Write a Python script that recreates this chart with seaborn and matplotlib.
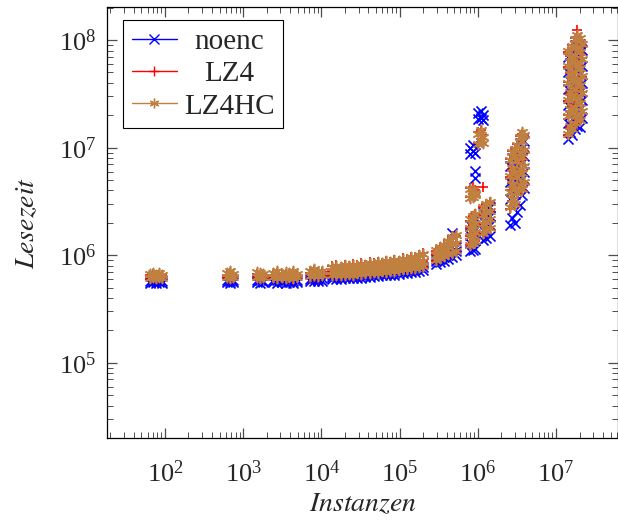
import matplotlib.pyplot as plt
from matplotlib.lines import Line2D
from matplotlib.ticker import LogLocator, NullFormatter
import numpy as np
import pandas as pd
import seaborn as sns

# Lesezeit je Anzahl Instanzen, mehrere Messungen pro Instanzanzahl
instanzen = [
    65, 71, 77, 84, 91,
    620, 680, 740,
    1500, 1640, 1780,
    2400, 2750, 3100, 3500, 3900, 4400, 4900,
    7200, 8000, 9000, 10200,
    13800, 15600, 17600, 19900, 22500, 25400, 28700, 32400, 36600, 41400, 46700, 52800,
    59600, 67400, 76100, 86000, 97000, 110000, 124000, 140000, 158000, 178000, 200000,
    2.9e5, 3.3e5, 3.7e5, 4.2e5, 4.7e5, 5.2e5,
    8.0e5, 8.7e5, 9.3e5, 1.02e6, 1.1e6, 1.18e6, 1.28e6, 1.42e6,
    2.55e6, 2.75e6, 2.95e6, 3.2e6, 3.45e6, 3.7e6, 3.95e6,
    1.42e7, 1.50e7, 1.62e7, 1.75e7, 1.88e7, 2.02e7, 2.15e7,
]

noenc = [
    [5.5e5, 5.8e5], [5.6e5, 5.9e5], [5.5e5, 5.8e5], [5.6e5, 5.9e5], [5.5e5, 5.8e5],
    [5.6e5, 5.9e5], [5.5e5, 5.8e5], [5.6e5, 5.9e5],
    [5.6e5, 5.9e5], [5.5e5, 5.9e5], [5.6e5, 5.8e5],
    [5.6e5, 5.9e5], [5.5e5, 5.9e5], [5.6e5, 5.8e5], [5.5e5, 5.9e5], [5.6e5, 5.9e5], [5.5e5, 5.8e5], [5.6e5, 5.9e5],
    [5.7e5, 6.0e5], [5.7e5, 6.1e5], [5.8e5, 6.0e5], [5.8e5, 6.1e5],
    [6.0e5, 6.3e5, 6.6e5], [6.0e5, 6.4e5, 6.8e5], [6.0e5, 6.3e5, 6.6e5], [6.1e5, 6.4e5, 6.8e5],
    [6.1e5, 6.5e5, 6.9e5], [6.1e5, 6.5e5, 7.0e5], [6.2e5, 6.6e5, 7.0e5], [6.2e5, 6.6e5, 7.1e5],
    [6.3e5, 6.7e5, 7.1e5], [6.3e5, 6.7e5, 7.2e5], [6.4e5, 6.8e5, 7.2e5], [6.4e5, 6.8e5, 7.3e5],
    [6.5e5, 6.9e5, 7.3e5], [6.5e5, 6.9e5, 7.4e5], [6.6e5, 7.0e5, 7.5e5], [6.6e5, 7.1e5, 7.6e5],
    [6.7e5, 7.1e5, 7.7e5], [6.8e5, 7.2e5, 7.8e5], [6.8e5, 7.3e5, 7.9e5], [7.0e5, 7.5e5, 8.1e5],
    [7.0e5, 7.5e5, 8.2e5], [7.2e5, 7.7e5, 8.4e5], [7.3e5, 7.8e5, 8.5e5],
    [8.3e5, 8.8e5, 9.3e5], [8.6e5, 9.2e5, 9.8e5], [8.9e5, 9.7e5, 1.05e6],
    [9.3e5, 1.0e6, 1.1e6], [9.6e5, 1.1e6, 1.6e6], [1.0e6, 1.1e6, 1.2e6],
    [1.1e6, 1.3e6, 1.55e6, 1.9e6, 8.8e6, 1.0e7], [1.12e6, 1.35e6, 1.65e6, 2.1e6, 9.3e6, 1.05e7],
    [1.15e6, 1.4e6, 1.75e6, 2.2e6, 5.2e6, 6.1e6, 9.0e6],
    [1.85e7, 2.1e7], [1.9e7, 2.2e7], [1.4e6, 1.7e6, 2.1e6, 2.5e6, 1.8e7, 2.0e7],
    [1.45e6, 1.8e6, 2.2e6, 2.7e6], [1.5e6, 1.9e6, 2.3e6, 2.8e6],
    [1.9e6, 3.3e6, 4.8e6, 6.8e6], [2.2e6, 4.0e6, 5.7e6, 8.1e6], [2.0e6, 3.7e6, 5.3e6, 7.4e6, 8.7e6],
    [2.5e6, 4.7e6, 6.6e6, 9.2e6], [2.9e6, 5.5e6, 7.8e6, 1.1e7], [3.6e6, 5.1e6, 7.2e6, 1.0e7, 1.2e7],
    [4.2e6, 6.0e6, 8.4e6, 1.15e7],
    [1.2e7, 1.7e7, 2.5e7, 3.5e7, 5.1e7, 7.0e7], [1.4e7, 2.0e7, 2.9e7, 4.2e7, 6.1e7],
    [1.3e7, 1.85e7, 2.6e7, 3.8e7, 5.5e7, 7.7e7], [1.5e7, 2.1e7, 3.1e7, 4.4e7, 6.3e7, 9.0e7],
    [1.6e7, 2.5e7, 3.7e7, 5.3e7, 7.6e7, 9.8e7], [1.55e7, 2.3e7, 3.3e7, 4.8e7, 6.9e7, 9.2e7],
    [1.9e7, 2.8e7, 4.0e7, 5.8e7, 8.1e7],
]

lz4 = [
    [6.0e5, 6.5e5], [6.1e5, 6.7e5], [6.0e5, 6.4e5], [6.1e5, 6.6e5], [6.0e5, 6.5e5],
    [6.1e5, 6.6e5], [6.0e5, 6.8e5], [6.1e5, 6.5e5],
    [6.1e5, 6.7e5], [6.0e5, 6.6e5], [6.1e5, 6.5e5],
    [6.1e5, 6.6e5], [6.0e5, 6.8e5], [6.1e5, 6.5e5], [6.0e5, 6.7e5], [6.1e5, 6.6e5], [6.0e5, 6.8e5], [6.1e5, 6.5e5],
    [6.2e5, 6.9e5], [6.3e5, 7.3e5], [6.2e5, 6.8e5], [6.4e5, 7.0e5],
    [6.4e5, 7.1e5, 7.9e5], [6.5e5, 7.1e5, 8.1e5], [6.4e5, 7.1e5, 7.8e5], [6.5e5, 7.1e5, 8.2e5],
    [6.6e5, 7.3e5, 8.0e5], [6.5e5, 7.2e5, 8.3e5], [6.7e5, 7.4e5, 8.1e5], [6.6e5, 7.3e5, 8.4e5],
    [6.8e5, 7.5e5, 8.2e5], [6.7e5, 7.4e5, 8.6e5], [6.9e5, 7.6e5, 8.4e5], [6.8e5, 7.5e5, 8.7e5],
    [7.0e5, 7.7e5, 8.5e5], [6.9e5, 7.6e5, 8.9e5], [7.1e5, 7.8e5, 8.7e5], [7.1e5, 7.8e5, 9.1e5],
    [7.2e5, 8.0e5, 8.9e5], [7.3e5, 8.0e5, 9.4e5], [7.3e5, 8.2e5, 9.2e5], [7.5e5, 8.3e5, 9.7e5],
    [7.5e5, 8.4e5, 9.6e5], [7.7e5, 8.6e5, 1.01e6], [7.8e5, 8.9e5, 1.04e6],
    [8.8e5, 1.0e6, 1.1e6], [9.3e5, 1.05e6, 1.2e6], [9.6e5, 1.1e6, 1.27e6],
    [1.0e6, 1.17e6, 1.38e6], [1.05e6, 1.25e6, 1.5e6], [1.08e6, 1.3e6, 1.52e6],
    [1.25e6, 1.5e6, 1.8e6, 2.1e6, 3.5e6, 4.2e6], [1.3e6, 1.55e6, 1.9e6, 2.3e6, 3.7e6, 4.3e6],
    [1.35e6, 1.6e6, 2.0e6, 2.4e6, 3.6e6, 3.9e6, 4.0e6],
    [1.1e7, 1.4e7], [1.2e7, 1.45e7], [1.6e6, 1.95e6, 2.35e6, 2.8e6, 4.3e6, 1.3e7],
    [1.65e6, 2.0e6, 2.5e6, 3.0e6], [1.75e6, 2.1e6, 2.6e6, 3.1e6],
    [2.7e6, 4.0e6, 5.3e6, 7.9e6], [3.2e6, 4.7e6, 6.3e6, 9.4e6], [2.9e6, 4.3e6, 5.8e6, 8.6e6, 1.0e7],
    [3.7e6, 5.4e6, 7.3e6, 1.07e7], [4.4e6, 6.4e6, 8.7e6, 1.27e7], [4.0e6, 5.9e6, 8.0e6, 1.17e7, 1.35e7],
    [4.7e6, 6.9e6, 9.4e6, 1.32e7],
    [1.3e7, 2.0e7, 2.7e7, 4.1e7, 5.6e7, 7.8e7], [1.55e7, 2.4e7, 3.2e7, 4.9e7, 7.1e7],
    [1.45e7, 2.2e7, 2.9e7, 4.4e7, 6.0e7, 9.0e7], [1.65e7, 2.5e7, 3.4e7, 5.2e7, 7.0e7, 1.05e8],
    [1.9e7, 3.0e7, 4.0e7, 6.2e7, 8.4e7, 1.25e8], [1.75e7, 2.7e7, 3.7e7, 5.7e7, 7.6e7, 1.0e8],
    [2.1e7, 3.3e7, 4.5e7, 6.8e7, 9.0e7],
]

lz4hc = [
    [6.2e5, 6.7e5], [6.3e5, 6.9e5], [6.1e5, 6.6e5], [6.3e5, 6.8e5], [6.2e5, 6.6e5],
    [6.3e5, 6.8e5], [6.2e5, 7.2e5], [6.3e5, 6.7e5],
    [6.3e5, 7.0e5], [6.2e5, 6.8e5], [6.3e5, 6.7e5],
    [6.3e5, 6.8e5], [6.2e5, 7.1e5], [6.3e5, 6.7e5], [6.2e5, 7.0e5], [6.3e5, 6.8e5], [6.2e5, 7.1e5], [6.3e5, 6.7e5],
    [6.4e5, 7.1e5], [6.5e5, 7.5e5], [6.4e5, 7.0e5], [6.6e5, 7.2e5],
    [6.5e5, 7.1e5, 7.8e5], [6.6e5, 7.3e5, 8.0e5], [6.5e5, 7.1e5, 7.7e5], [6.6e5, 7.3e5, 8.1e5],
    [6.7e5, 7.3e5, 7.9e5], [6.6e5, 7.4e5, 8.2e5], [6.8e5, 7.4e5, 8.0e5], [6.7e5, 7.5e5, 8.3e5],
    [6.9e5, 7.5e5, 8.1e5], [6.8e5, 7.6e5, 8.5e5], [7.0e5, 7.6e5, 8.3e5], [6.9e5, 7.7e5, 8.6e5],
    [7.1e5, 7.7e5, 8.4e5], [7.0e5, 7.8e5, 8.8e5], [7.2e5, 7.8e5, 8.6e5], [7.2e5, 8.0e5, 9.0e5],
    [7.3e5, 8.0e5, 8.8e5], [7.4e5, 8.2e5, 9.3e5], [7.4e5, 8.2e5, 9.1e5], [7.6e5, 8.5e5, 9.6e5],
    [7.6e5, 8.4e5, 9.5e5], [7.8e5, 8.8e5, 1.0e6], [7.9e5, 8.9e5, 1.02e6],
    [9.0e5, 1.0e6, 1.12e6], [9.4e5, 1.06e6, 1.18e6], [9.8e5, 1.1e6, 1.25e6],
    [1.02e6, 1.18e6, 1.35e6], [1.06e6, 1.26e6, 1.48e6], [1.1e6, 1.3e6, 1.55e6],
    [1.25e6, 1.5e6, 1.8e6, 2.15e6, 3.4e6, 4.1e6], [1.3e6, 1.55e6, 1.9e6, 2.3e6, 3.5e6, 4.0e6],
    [1.35e6, 1.65e6, 2.0e6, 2.4e6, 3.8e6, 3.6e6, 3.7e6],
    [1.08e7, 1.35e7], [1.15e7, 1.45e7], [1.6e6, 1.95e6, 2.35e6, 2.8e6, 1.25e7, 1.1e7],
    [1.7e6, 2.05e6, 2.5e6, 3.0e6], [1.8e6, 2.15e6, 2.6e6, 3.1e6],
    [2.8e6, 3.9e6, 5.5e6, 7.7e6], [3.3e6, 4.6e6, 6.5e6, 9.2e6], [3.0e6, 4.2e6, 6.0e6, 8.4e6, 9.8e6],
    [3.8e6, 5.3e6, 7.5e6, 1.05e7], [4.5e6, 6.3e6, 8.9e6, 1.25e7], [4.1e6, 5.8e6, 8.2e6, 1.15e7, 1.4e7],
    [4.8e6, 6.8e6, 9.6e6, 1.3e7],
    [1.35e7, 1.95e7, 2.8e7, 4.0e7, 5.8e7, 8.0e7], [1.6e7, 2.3e7, 3.3e7, 4.8e7, 6.9e7],
    [1.5e7, 2.1e7, 3.0e7, 4.3e7, 6.2e7, 8.8e7], [1.7e7, 2.4e7, 3.5e7, 5.0e7, 7.2e7, 1.02e8],
    [2.0e7, 2.9e7, 4.2e7, 6.0e7, 8.6e7, 1.12e8], [1.8e7, 2.6e7, 3.8e7, 5.5e7, 7.8e7, 1.05e8],
    [2.2e7, 3.2e7, 4.6e7, 6.6e7, 9.2e7],
]

namen = ["noenc", "LZ4", "LZ4HC"]
farben = ["#0000ff", "#ff0000", "#bf8040"]
# x, +, Sternchen wie bei pgfplots
marker = ["x", "+", (6, 2, 0)]
x_ticks = [1e2, 1e3, 1e4, 1e5, 1e6, 1e7]
y_ticks = [1e5, 1e6, 1e7, 1e8]


def lange_tabelle(werte):
    zeilen = []
    for x, messungen in zip(instanzen, werte):
        zeilen += [(x, y) for y in messungen]
    return pd.DataFrame(zeilen, columns=["Instanzen", "Lesezeit"])


sns.set_style("ticks")
plt.rcParams["font.family"] = ["Liberation Serif", "DejaVu Serif"]
plt.rcParams["mathtext.fontset"] = "stix"

fig = plt.figure(figsize=(6.18, 5.2), dpi=100)
ax = fig.add_axes([107 / 618, 82 / 520, 511 / 618, 431 / 520])
ax.set_xscale("log")
ax.set_yscale("log")

for werte, farbe, m in zip([noenc, lz4, lz4hc], farben, marker):
    sns.scatterplot(data=lange_tabelle(werte), x="Instanzen", y="Lesezeit", ax=ax,
                    color=farbe, marker=m, s=52, linewidth=1.2, legend=False)

ax.set_xlim(18.2, 6.2e7)
ax.set_ylim(2.0e4, 2.03e8)
ax.set_xticks(x_ticks)
ax.set_yticks(y_ticks)
for achse in [ax.xaxis, ax.yaxis]:
    achse.set_minor_locator(LogLocator(base=10, subs=np.arange(2, 10), numticks=20))
    achse.set_minor_formatter(NullFormatter())

# Ticks nach innen, auf allen vier Seiten (pgfplots-Stil)
ax.tick_params(axis="both", which="both", direction="in", color="0.3",
               bottom=True, left=True, top=True, right=True)
ax.tick_params(axis="both", which="major", length=7, width=0.9)
ax.tick_params(axis="both", which="minor", length=4.5, width=0.7)
ax.tick_params(axis="x", which="major", pad=16, labelsize=19)
ax.tick_params(axis="y", which="major", pad=8, labelsize=19)
for spine in ax.spines.values():
    spine.set_color("black")
    spine.set_linewidth(0.9)

ax.set_xlabel("$Instanzen$", fontsize=20, labelpad=4)
ax.set_ylabel("$Lesezeit$", fontsize=20, labelpad=13)

griffe = [Line2D([], [], color=f, marker=m, markersize=7, linewidth=1.0, markeredgewidth=1.0)
          for f, m in zip(farben, marker)]
leg = ax.legend(griffe, namen, loc="upper left", bbox_to_anchor=(0.031, 0.97), borderaxespad=0,
                fontsize=21, fancybox=False, edgecolor="black", framealpha=1,
                handlelength=1.55, handletextpad=0.25, labelspacing=0.2, borderpad=0.3)
leg.get_frame().set_linewidth(0.8)

# Legendentexte zentrieren wie in pgfplots
fig.canvas.draw()
breiten = [t.get_window_extent().width for t in leg.get_texts()]
for t, b in zip(leg.get_texts(), breiten):
    t.set_position(((max(breiten) - b) / 2, 0))

fig.savefig("out.png", dpi=100)
